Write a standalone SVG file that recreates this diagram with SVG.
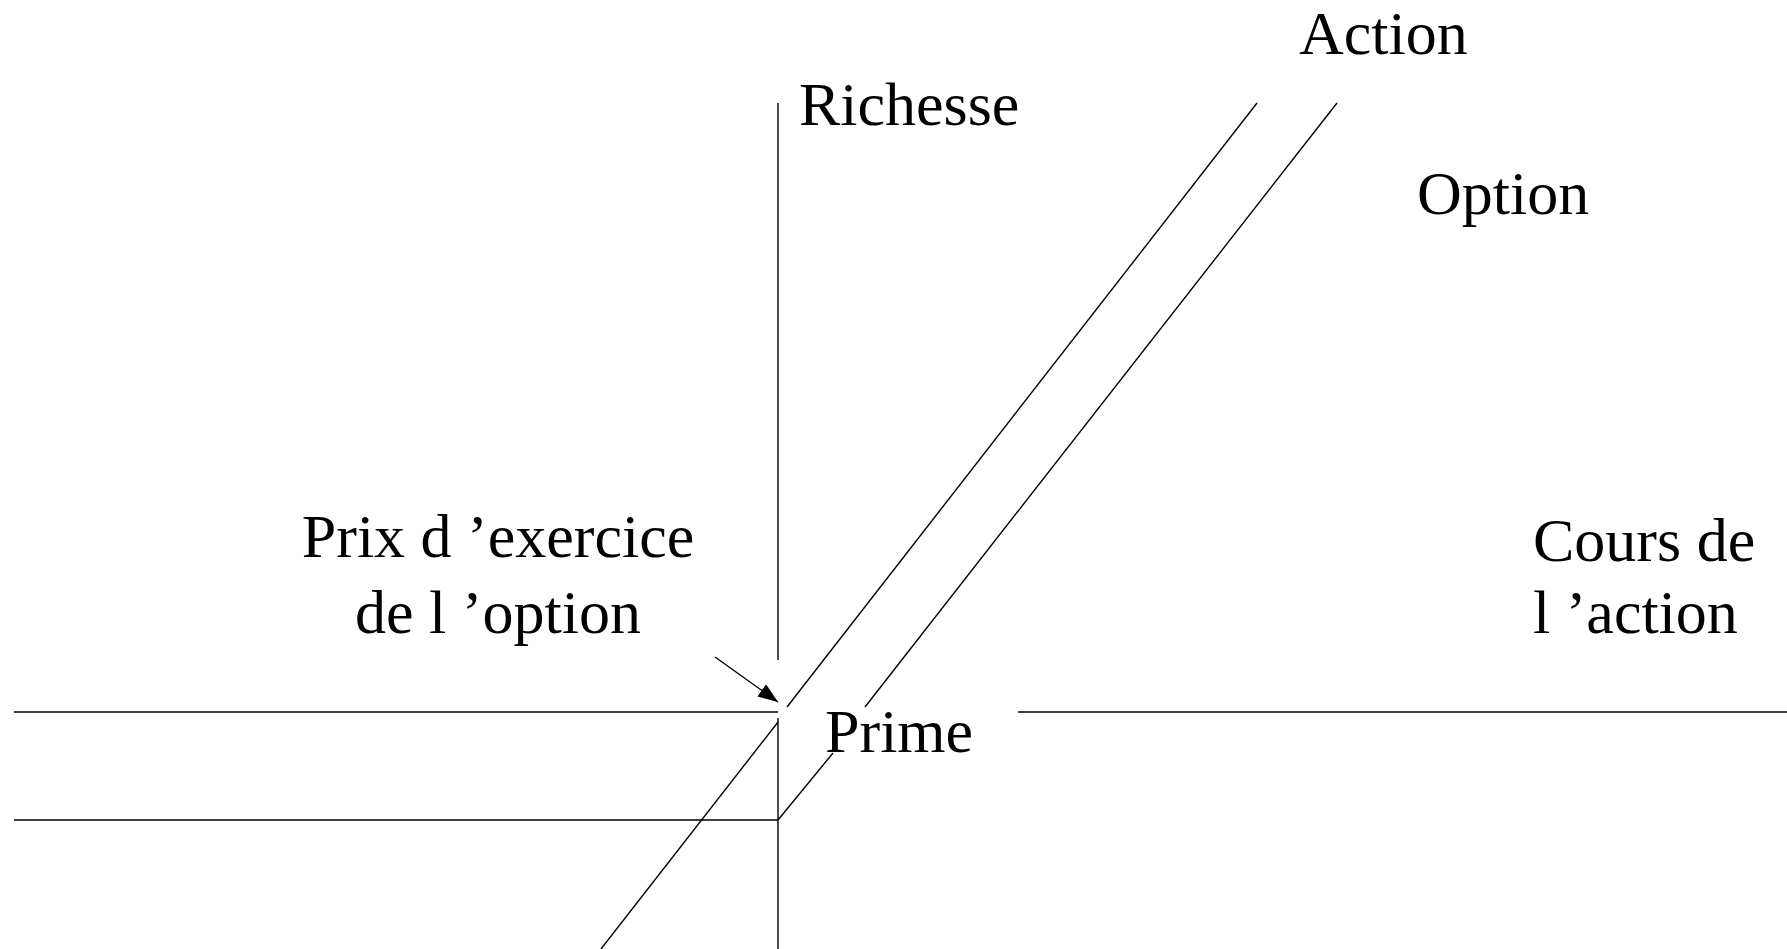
<svg xmlns="http://www.w3.org/2000/svg" width="1787" height="949" viewBox="0 0 1787 949">
<style>
.ln{stroke:#000;stroke-width:1.4;fill:none}
.t{font-family:"Liberation Serif","Times New Roman",serif;font-size:62px;fill:#000}
</style>
<defs>
<marker id="ah" viewBox="0 0 10 10" refX="10" refY="5" markerWidth="20" markerHeight="15" markerUnits="userSpaceOnUse" orient="auto" preserveAspectRatio="none">
<path d="M0,0 L10,5 L0,10 Z" fill="#000"/>
</marker>
</defs>
<rect width="1787" height="949" fill="#fff"/>
<g id="connectors">
<line class="ln" x1="778" y1="103" x2="778" y2="660"/>
<line class="ln" x1="778" y1="718" x2="778" y2="949"/>
<line class="ln" x1="14" y1="712" x2="778" y2="712"/>
<line class="ln" x1="1018" y1="712" x2="1787" y2="712"/>
<line class="ln" x1="14" y1="820" x2="778" y2="820"/>
<line class="ln" x1="1257" y1="103" x2="787" y2="707"/>
<line class="ln" x1="778" y1="722" x2="601" y2="949"/>
<line class="ln" x1="1337" y1="103" x2="865" y2="707"/>
<line class="ln" x1="833" y1="753" x2="778" y2="820"/>
<line class="ln" x1="715" y1="657" x2="778" y2="702" marker-end="url(#ah)"/>
</g>
<g id="label-richesse"><text class="t" x="799" y="125">Richesse</text></g>
<g id="label-action"><text class="t" x="1299" y="54">Action</text></g>
<g id="label-option"><text class="t" x="1417" y="214">Option</text></g>
<g id="label-prix"><text class="t" x="498" y="557" text-anchor="middle">Prix d ’exercice</text><text class="t" x="498" y="633" text-anchor="middle">de l ’option</text></g>
<g id="label-cours"><text class="t" x="1533" y="561">Cours de</text><text class="t" x="1533" y="633">l ’action</text></g>
<g id="label-prime"><text class="t" x="825" y="752">Prime</text></g>
</svg>
